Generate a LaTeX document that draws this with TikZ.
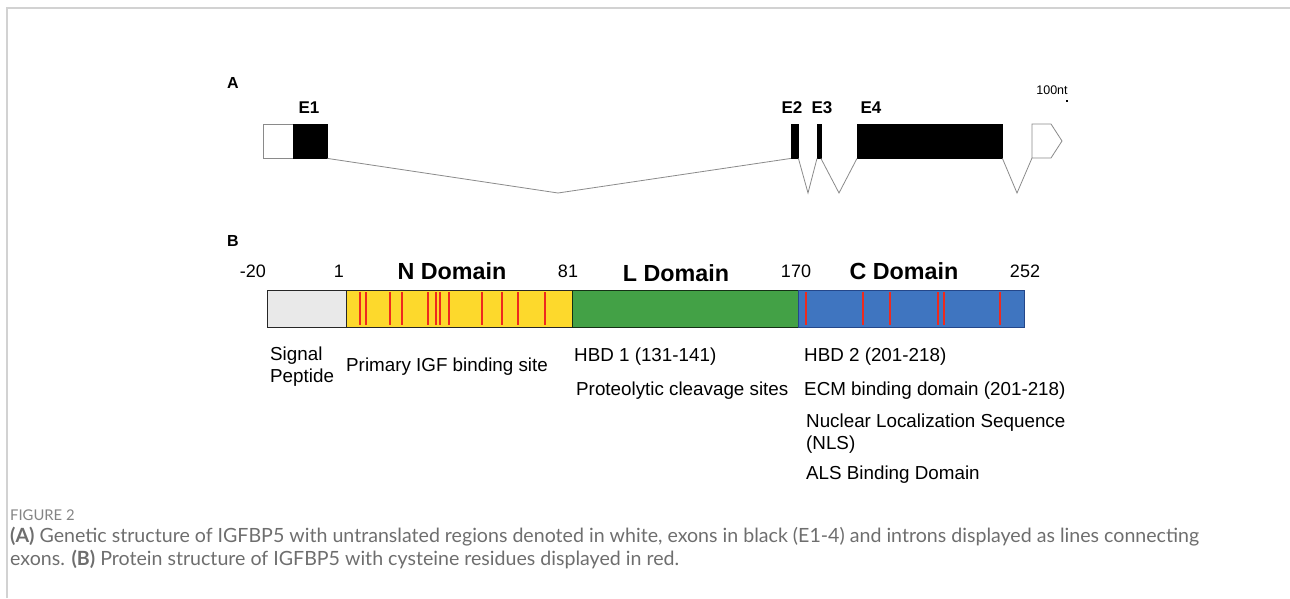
\documentclass[tikz,border=0pt]{standalone}
\usepackage{fontspec}
\setmainfont{Liberation Sans}
\newfontfamily\capfont{Lato}
\usetikzlibrary{positioning}
\definecolor{frame}{HTML}{D2D2D2}
\definecolor{utrline}{HTML}{8A8A8A}
\definecolor{sigpep}{HTML}{E9E9E9}
\definecolor{ndom}{HTML}{FDD92C}
\definecolor{ldom}{HTML}{43A146}
\definecolor{cdom}{HTML}{3F75C0}
\definecolor{cdomline}{HTML}{24478A}
\definecolor{cys}{HTML}{EE2A1E}
\definecolor{captxt}{HTML}{6E6E6E}

\tikzset{
  exon/.style={fill=black, draw=black, inner sep=0pt, anchor=north west, minimum height=34pt},
  utr/.style={fill=white, draw=utrline, line width=0.8pt},
  intron/.style={draw=utrline, line width=0.8pt},
  seg/.style={draw=black!85, line width=1.3pt, inner sep=0pt, anchor=north west, minimum height=37pt},
  cysline/.style={cys, line width=2.8pt},
  lbl/.style={font=\fontsize{18.8}{22}\selectfont, anchor=west, inner sep=0pt, align=left},
  num/.style={font=\fontsize{18}{20}\selectfont, inner sep=0pt},
  dom/.style={font=\fontsize{23.3}{26}\selectfont\bfseries, inner sep=0pt},
  exlbl/.style={font=\fontsize{17}{19}\selectfont\bfseries, inner sep=0pt},
  panel/.style={font=\fontsize{16}{19}\selectfont\bfseries, inner sep=0pt},
}

\begin{document}
\begin{tikzpicture}[x=1pt, y=-1pt]
  \useasboundingbox (0,0) rectangle (1290,598);
  % frame
  \draw[frame, line width=1.5pt] (7,598) -- (7,8) -- (1290,8);

  % A: gene structure
  \node[panel] (pa) at (233,83) {A};
  \draw[utr] (263,124) rectangle (293,158);
  \node[exon, minimum width=34pt] (e1) at (293,124) {};
  \node[exon, minimum width=7pt] (e2) at (791,124) {};
  \node[exon, minimum width=3.5pt] (e3) at (817,124) {};
  \node[exon, minimum width=145pt] (e4) at (857,124) {};
  \draw[utr] (1032,124) -- (1051,124) -- (1062,141) -- (1051,158) -- (1032,158) -- cycle;
  \coordinate (u3) at (1032,158);
  \node[exlbl] (l1) at (309,108) {E1};
  \node[exlbl] (l2) at (792,108) {E2};
  \node[exlbl] (l3) at (822,108) {E3};
  \node[exlbl] (l4) at (871,108) {E4};
  \node[font=\fontsize{12.5}{14}\selectfont, inner sep=0pt] (sc) at (1052,90) {100nt};
  \fill (1066,100) rectangle (1068,102);
  % introns
  \coordinate (i1) at (558,193);
  \coordinate (i2) at (808,193);
  \coordinate (i3) at (839,193);
  \coordinate (i4) at (1017,193);
  \draw[intron] (e1.south east) -- (i1) -- (e2.south west);
  \draw[intron] (e2.south east) -- (i2) -- (e3.south west);
  \draw[intron] (e3.south east) -- (i3) -- (e4.south west);
  \draw[intron] (e4.south east) -- (i4) -- (u3);

  % B: protein structure
  \node[panel] (pb) at (233,241) {B};
  \node[seg, fill=sigpep, minimum width=79pt] (sp) at (267,290) {};
  \node[seg, fill=ndom, minimum width=226pt] (nd) at (346,290) {};
  \node[seg, fill=ldom, draw=black!70!ldom, minimum width=226pt] (ld) at (572,290) {};
  \node[seg, fill=cdom, draw=cdomline, minimum width=226pt] (cd) at (798,290) {};
  % cysteines
  \foreach \x in {360,366,390,402,428,436,440,449,482,502,518,545,806,863,890,938,944,1000}
    \draw[cysline] (\x,292) -- (\x,325);
  % residue numbers and domains
  \foreach \x/\n in {253/-20, 339/1, 568/81, 796/170, 1025/252}
    \node[num] at (\x,271) {\n};
  \node[dom] (nt) at (452,271) {N Domain};
  \node[dom] (lt) at (676,273) {L Domain};
  \node[dom] (ct) at (904,271) {C Domain};
  % features
  \node[lbl] (f1) at (270,367) {Signal\\Peptide};
  \node[lbl] (f2) at (346,367) {Primary IGF binding site};
  \node[lbl] (f3) at (574,357) {HBD 1 (131-141)};
  \node[lbl] (f4) at (576,391) {Proteolytic cleavage sites};
  \node[lbl] (f5) at (804,357) {HBD 2 (201-218)};
  \node[lbl] (f6) at (804,391) {ECM binding domain (201-218)};
  \node[lbl] (f7) at (806,434) {Nuclear Localization Sequence\\(NLS)};
  \node[lbl] (f8) at (806,475) {ALS Binding Domain};

  % caption
  \node[font=\capfont\fontsize{14.8}{16}\selectfont, text=captxt!85, anchor=west, inner sep=0pt] (fig) at (10,515) {FIGURE 2};
  \node[font=\capfont\fontsize{19.6}{23}\selectfont, text=captxt, anchor=north west, inner sep=0pt, align=left] (cap) at (10,527)
    {\textbf{(A)} Genetic structure of IGFBP5 with untranslated regions denoted in white, exons in black (E1-4) and introns displayed as lines connecting\\
     exons. \textbf{(B)} Protein structure of IGFBP5 with cysteine residues displayed in red.};
\end{tikzpicture}
\end{document}
